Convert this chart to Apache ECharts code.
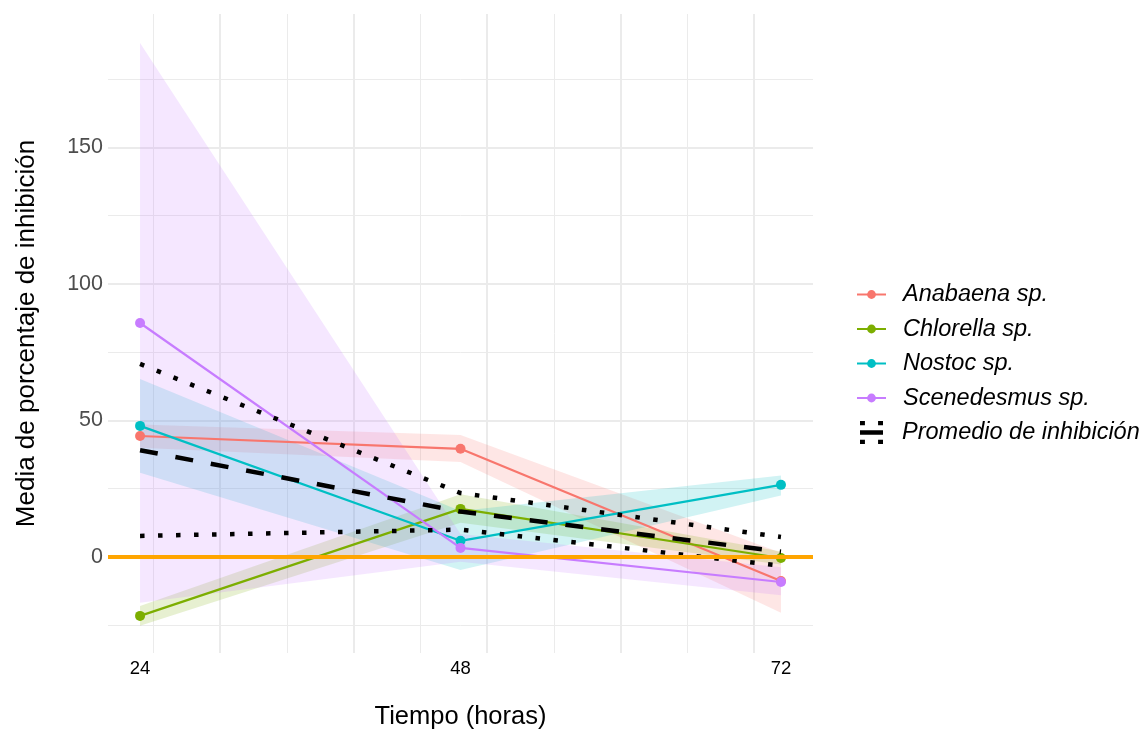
<!DOCTYPE html>
<html>
<head>
<meta charset="utf-8">
<script src="https://cdn.jsdelivr.net/npm/echarts@6/dist/echarts.min.js"></script>
<style>
  html, body { margin: 0; padding: 0; background: #fff; }
  #chart { width: 1143px; height: 732px; }
</style>
</head>
<body>
<div id="chart"></div>
<script>
// horas de medición
const hours = [24, 48, 72];

// especies y colores (paleta por defecto de ggplot)
const speciesNames = ['Anabaena sp.', 'Chlorella sp.', 'Nostoc sp.', 'Scenedesmus sp.'];
const speciesColors = ['#F8766D', '#7CAE00', '#00BFC4', '#C77CFF'];

// medias de porcentaje de inhibición por especie
const anabaena = [44.3, 39.6, -8.8];
const chlorella = [-21.6, 17.6, -0.4];
const nostoc = [48.0, 5.9, 26.4];
const scenedesmus = [85.7, 3.3, -9.2];

// bandas (límite inferior / superior) por especie
const anabaenaLow = [40.0, 34.8, -20.5];
const anabaenaHigh = [48.5, 44.7, 1.5];
const chlorellaLow = [-25.2, 12.5, -2.8];
const chlorellaHigh = [-18.0, 23.0, 2.0];
const nostocLow = [30.8, -4.8, 22.5];
const nostocHigh = [65.2, 16.8, 29.8];
const scenedesmusLow = [-16.8, -1.8, -14.0];
const scenedesmusHigh = [188.3, 8.4, -3.8];

// promedio de inhibición y líneas punteadas
const promedio = [39.1, 16.6, 1.9];
const promedioHigh = [70.7, 23.4, 7.3];
const promedioLow = [7.7, 10.0, -3.2];

// ejes
const xLabels = [24, 48, 72];
const yLabels = [0, 50, 100, 150];
const xMajor = [30, 40, 50, 60, 70];
const xMinor = [25, 35, 45, 55, 65];
const yMajor = [0, 50, 100, 150];
const yMinor = [-25, 25, 75, 125, 175];

const speciesValues = [anabaena, chlorella, nostoc, scenedesmus];
const speciesLow = [anabaenaLow, chlorellaLow, nostocLow, scenedesmusLow];
const speciesHigh = [anabaenaHigh, chlorellaHigh, nostocHigh, scenedesmusHigh];

const pairs = vals => hours.map((h, i) => [h, vals[i]]);
const font = '"Liberation Sans", Arial, sans-serif';

// líneas de la cuadrícula
const gridLines = [];
xMajor.forEach(v => gridLines.push({ xAxis: v, lineStyle: { width: 2 } }));
xMinor.forEach(v => gridLines.push({ xAxis: v, lineStyle: { width: 1 } }));
yMajor.forEach(v => gridLines.push({ yAxis: v, lineStyle: { width: 2 } }));
yMinor.forEach(v => gridLines.push({ yAxis: v, lineStyle: { width: 1 } }));

const series = [];

series.push({
  name: 'cuadricula',
  type: 'line',
  data: [],
  silent: true,
  markLine: {
    z: 0,
    silent: true,
    animation: false,
    symbol: ['none', 'none'],
    label: { show: false },
    emphasis: { disabled: true },
    lineStyle: { color: '#EBEBEB', type: 'solid' },
    data: gridLines
  }
});

// bandas sombreadas
speciesNames.forEach((name, k) => {
  const low = speciesLow[k];
  const high = speciesHigh[k];
  series.push({
    name: 'banda ' + name,
    type: 'custom',
    silent: true,
    z: 1,
    data: hours.map((h, i) => [h, low[i], high[i]]),
    encode: { x: 0, y: [1, 2] },
    renderItem: (params, api) => {
      if (params.dataIndex !== 0) return null;
      const top = hours.map((h, i) => api.coord([h, high[i]]));
      const bottom = hours.map((h, i) => api.coord([h, low[i]])).reverse();
      return {
        type: 'polygon',
        shape: { points: top.concat(bottom) },
        style: { fill: speciesColors[k], opacity: 0.18 }
      };
    }
  });
});

// líneas por especie
speciesNames.forEach((name, k) => {
  series.push({
    name: name,
    type: 'line',
    z: 3,
    data: pairs(speciesValues[k]),
    color: speciesColors[k],
    symbol: 'circle',
    symbolSize: 10,
    lineStyle: { width: 2.2, color: speciesColors[k] },
    itemStyle: { color: speciesColors[k] },
    emphasis: { disabled: true }
  });
});

// promedio (discontinua) y punteadas
series.push({
  name: 'Promedio de inhibición',
  type: 'line',
  z: 4,
  data: pairs(promedio),
  color: '#000',
  symbol: 'none',
  lineStyle: { width: 4.5, color: '#000', type: [18, 18], cap: 'butt' },
  emphasis: { disabled: true }
});
[promedioHigh, promedioLow].forEach((vals, j) => {
  series.push({
    name: 'punteada ' + j,
    type: 'line',
    z: 4,
    data: pairs(vals),
    color: '#000',
    symbol: 'none',
    lineStyle: { width: 4.5, color: '#000', type: [4.5, 13.5], cap: 'butt' },
    emphasis: { disabled: true }
  });
});

// línea de referencia en 0
series.push({
  name: 'cero',
  type: 'line',
  data: [],
  silent: true,
  markLine: {
    z: 6,
    silent: true,
    animation: false,
    symbol: ['none', 'none'],
    label: { show: false },
    emphasis: { disabled: true },
    lineStyle: { color: '#FFA500', type: 'solid', width: 4 },
    data: [{ yAxis: 0 }]
  }
});

const chart = echarts.init(document.getElementById('chart'));

chart.setOption({
  animation: false,
  backgroundColor: '#fff',
  textStyle: { fontFamily: font },
  grid: {
    left: 108,
    right: 330,
    top: 14,
    bottom: 79,
    containLabel: false,
    outerBoundsMode: 'none'
  },
  xAxis: {
    type: 'value',
    min: 21.6,
    max: 74.4,
    name: 'Tiempo (horas)',
    nameLocation: 'middle',
    nameGap: 51,
    nameTextStyle: { fontSize: 25.5, color: '#000', fontFamily: font },
    axisLine: { show: false },
    axisTick: { show: false },
    splitLine: { show: false },
    axisLabel: {
      customValues: xLabels,
      color: '#000',
      fontSize: 18.5,
      margin: 6,
      fontFamily: font
    }
  },
  yAxis: {
    type: 'value',
    min: -35.2,
    max: 198.9,
    name: 'Media de porcentaje de inhibición',
    nameLocation: 'middle',
    nameGap: 68,
    nameTextStyle: { fontSize: 26, color: '#000', fontFamily: font },
    axisLine: { show: false },
    axisTick: { show: false },
    splitLine: { show: false },
    axisLabel: {
      customValues: yLabels,
      color: '#4D4D4D',
      fontSize: 21.5,
      margin: 5,
      fontFamily: font
    }
  },
  legend: [
    {
      orient: 'vertical',
      left: 851,
      top: 278,
      itemWidth: 29,
      itemHeight: 11,
      itemGap: 11.5,
      selectedMode: false,
      textStyle: { fontSize: 23.5, fontStyle: 'italic', color: '#000', fontFamily: font, padding: [0, 0, 0, 12] },
      data: speciesNames
    },
    {
      orient: 'vertical',
      left: 855,
      top: 416,
      itemWidth: 23,
      itemHeight: 23,
      selectedMode: false,
      textStyle: { fontSize: 23.5, fontStyle: 'italic', color: '#000', fontFamily: font, padding: [0, 0, 0, 14] },
      data: [{
        name: 'Promedio de inhibición',
        icon: 'path://M0,0h15v13h-15z M55,0h15v13h-15z M0,28h70v14h-70z M0,57h15v13h-15z M55,57h15v13h-15z'
      }]
    }
  ],
  series: series
});
</script>
</body>
</html>
